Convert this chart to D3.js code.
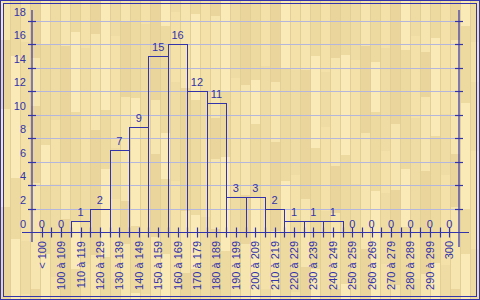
<!DOCTYPE html>
<html>
<head>
<meta charset="utf-8">
<script src="https://cdn.jsdelivr.net/npm/d3@7"></script>
<style>
  body { margin: 0; background: #fff; }
  svg { display: block; }
  text { font-family: "Liberation Sans", Arial, sans-serif; font-size: 11px; fill: #3333aa; }
</style>
</head>
<body>
<svg id="chart" width="480" height="300"></svg>
<script>
var categories = ["< 100", "100 à 109", "110 à 119", "120 à 129", "130 à 139", "140 à 149",
  "150 à 159", "160 à 169", "170 à 179", "180 à 189", "190 à 199", "200 à 209",
  "210 à 219", "220 à 229", "230 à 239", "240 à 249", "250 à 259", "260 à 269",
  "270 à 279", "280 à 289", "290 à 299", "300"];
var counts = [0, 0, 1, 2, 7, 9, 15, 16, 12, 11, 3, 3, 2, 1, 1, 1, 0, 0, 0, 0, 0, 0];
var yTicks = [0, 2, 4, 6, 8, 10, 12, 14, 16, 18];

var blue = "#3333aa";
var svg = d3.select("#chart");
var W = 480, H = 300;

// wood background: vertical planks, shades picked by a fixed hash
var shades = ["#f6e5ae", "#eddaa1", "#f3e1a9", "#ead59c", "#f9eab8", "#efdca5"];
var bg = svg.append("g");
bg.append("rect").attr("width", W).attr("height", H).attr("fill", "#f0dea6");
for (var c = 0; c < 48; c++) {
  var py = -((c * 37) % 60);
  var k = 0;
  while (py < H) {
    var ph = 40 + ((c * 53 + k * 29) % 90);
    bg.append("rect")
      .attr("x", c * 10).attr("y", py)
      .attr("width", 10).attr("height", ph)
      .attr("fill", shades[(c * 7 + k * 3) % shades.length]);
    py += ph;
    k++;
  }
  bg.append("line")
    .attr("x1", c * 10 + 0.5).attr("x2", c * 10 + 0.5)
    .attr("y1", 0).attr("y2", H)
    .attr("stroke", "#e2cf95").attr("stroke-width", 1);
}

// double frame
svg.append("rect").attr("x", 0.5).attr("y", 0.5).attr("width", W - 1).attr("height", H - 1)
  .attr("fill", "none").attr("stroke", blue);
svg.append("rect").attr("x", 3.5).attr("y", 3.5).attr("width", W - 7).attr("height", H - 7)
  .attr("fill", "none").attr("stroke", blue);

var x0 = 32, x1 = 459, yBase = 232.5, yTop = 20.5;
var x = d3.scaleBand().domain(categories).range([x0, x1]).padding(0);
var y = d3.scaleLinear().domain([0, 18]).range([yBase, yTop]);

// grid lines
svg.append("g").selectAll("line")
  .data(yTicks.filter(function(d) { return d > 0; }))
  .enter().append("line")
  .attr("x1", x0).attr("x2", x1)
  .attr("y1", function(d) { return Math.round(y(d)) + 0.5; })
  .attr("y2", function(d) { return Math.round(y(d)) + 0.5; })
  .attr("stroke", "#b4b6dc").attr("stroke-width", 1);

// bars (outline only, full band width)
var bars = svg.append("g");
counts.forEach(function(d, i) {
  if (d <= 0) return;
  var bx = Math.round(x(categories[i])) + 0.5;
  var bw = Math.round(x(categories[i]) + x.bandwidth()) - Math.round(x(categories[i]));
  var by = Math.round(y(d)) + 0.5;
  bars.append("rect")
    .attr("x", bx).attr("y", by)
    .attr("width", bw).attr("height", yBase - by)
    .attr("fill", "none").attr("stroke", blue).attr("stroke-width", 1);
});

// value labels
svg.append("g").selectAll("text")
  .data(counts)
  .enter().append("text")
  .attr("x", function(d, i) { return x(categories[i]) + x.bandwidth() / 2; })
  .attr("y", function(d) { return y(d) - 5; })
  .attr("text-anchor", "middle")
  .text(function(d) { return d; });

// axes lines
var axes = svg.append("g").attr("stroke", blue).attr("stroke-width", 1.2);
axes.append("line").attr("x1", x0).attr("x2", x0).attr("y1", 10).attr("y2", 242);
axes.append("line").attr("x1", x1).attr("x2", x1).attr("y1", 10).attr("y2", 247);
axes.append("line").attr("x1", 22).attr("x2", 469).attr("y1", yBase).attr("y2", yBase);

// y ticks both sides
yTicks.filter(function(d) { return d > 0; }).forEach(function(d) {
  var ty = Math.round(y(d)) + 0.5;
  axes.append("line").attr("x1", x0 - 4).attr("x2", x0 + 4).attr("y1", ty).attr("y2", ty);
  axes.append("line").attr("x1", x1 - 4).attr("x2", x1 + 4).attr("y1", ty).attr("y2", ty);
});

// x ticks: band edges and band centers
categories.forEach(function(c, i) {
  var e = Math.round(x(c)) + 0.5;
  var m = Math.round(x(c) + x.bandwidth() / 2) + 0.5;
  if (i > 0) axes.append("line").attr("x1", e).attr("x2", e).attr("y1", yBase - 5).attr("y2", yBase + 5);
  axes.append("line").attr("x1", m).attr("x2", m).attr("y1", yBase - 5).attr("y2", yBase + 5);
});

// y labels (drawn half a step above their tick, as in the original)
svg.append("g").selectAll("text")
  .data(yTicks)
  .enter().append("text")
  .attr("x", 26)
  .attr("y", function(d) { return y(d) - 5; })
  .attr("text-anchor", "end")
  .text(function(d) { return d; });

// x labels, rotated
svg.append("g").selectAll("text")
  .data(categories)
  .enter().append("text")
  .attr("transform", function(d) {
    return "translate(" + (x(d) + x.bandwidth() / 2 + 4) + ",241) rotate(-90)";
  })
  .attr("text-anchor", "end")
  .text(function(d) { return d; });
</script>
</body>
</html>
